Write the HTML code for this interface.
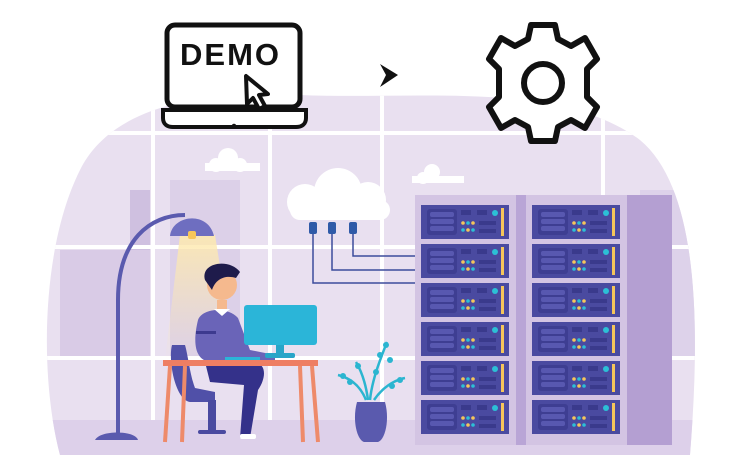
<!DOCTYPE html>
<html><head><style>html,body{margin:0;padding:0;background:#fff;}svg{display:block}</style></head>
<body>
<svg width="740" height="470" viewBox="0 0 740 470" xmlns="http://www.w3.org/2000/svg">
<defs>
<clipPath id="blob"><path d="M60 455 C40 380 40 250 80 170 C110 110 190 90 300 95 C420 100 560 80 640 140 C700 190 700 330 690 455 Z"/></clipPath>
<linearGradient id="cone" x1="0" y1="0" x2="0" y2="1"><stop offset="0" stop-color="#fde9b0" stop-opacity="0.9"/><stop offset="1" stop-color="#fde9b0" stop-opacity="0"/></linearGradient>
</defs>
<g clip-path="url(#blob)">
<rect x="0" y="0" width="740" height="470" fill="#e9e0f0"/>
<rect x="60" y="250" width="90" height="110" fill="#d9cbe6"/>
<rect x="170" y="180" width="70" height="180" fill="#dcd0e8"/>
<rect x="130" y="190" width="20" height="60" fill="#cfc0e0"/>
<rect x="640" y="190" width="60" height="170" fill="#ddd2ea"/>
<g fill="#fff">
<rect x="0" y="131" width="740" height="4"/>
<rect x="0" y="245" width="740" height="4"/>
<rect x="0" y="356" width="740" height="4"/>
<rect x="151" y="90" width="4" height="380"/>
<rect x="268" y="90" width="4" height="380"/>
<rect x="380" y="90" width="4" height="380"/>
<rect x="601" y="90" width="4" height="380"/>
</g>
<rect x="0" y="420" width="740" height="50" fill="#ddd0ea"/>
</g>
<!-- small clouds -->
<g fill="#fff"><circle cx="228" cy="158" r="10"/><circle cx="216" cy="165" r="7"/><circle cx="240" cy="165" r="7"/><rect x="205" y="163" width="55" height="8"/>
<circle cx="432" cy="172" r="8"/><circle cx="423" cy="178" r="6"/><rect x="412" y="176" width="52" height="7"/></g>
<!-- big cloud -->
<g fill="#fff"><circle cx="338" cy="192" r="24"/><circle cx="305" cy="202" r="18"/><circle cx="368" cy="200" r="18"/><rect x="290" y="200" width="100" height="20" rx="10"/></g>
<!-- cables -->
<g stroke="#3c4c9c" stroke-width="1.5" fill="none">
<path d="M313 230 V283 H415"/><path d="M332 230 V270 H415"/><path d="M353 230 V256 H415"/></g>
<g fill="#2f5aa8"><rect x="309" y="222" width="8" height="12" rx="2"/><rect x="328" y="222" width="8" height="12" rx="2"/><rect x="349" y="222" width="8" height="12" rx="2"/></g>
<!-- rack -->
<rect x="415" y="195" width="257" height="250" fill="#d3c4e3"/>
<rect x="516" y="195" width="10" height="250" fill="#b9a5d6"/>
<rect x="627" y="195" width="45" height="250" fill="#b49fd2"/>
<g id="u">
<rect x="421" y="205" width="88" height="34" fill="#4a4aa0"/>
<rect x="427" y="209" width="30" height="26" rx="3" fill="#3e3e92"/>
<rect x="430" y="212" width="24" height="5" rx="2" fill="#5858b0"/><rect x="430" y="219" width="24" height="5" rx="2" fill="#5858b0"/><rect x="430" y="226" width="24" height="5" rx="2" fill="#5858b0"/>
<rect x="461" y="210" width="10" height="5" fill="#3a3a8c"/><rect x="477" y="210" width="10" height="5" fill="#3a3a8c"/>
<circle cx="495" cy="213" r="3" fill="#2cc0d6"/>
<rect x="501" y="208" width="3" height="28" fill="#f6c65a"/>
<circle cx="463" cy="223" r="1.8" fill="#f6c65a"/><circle cx="468" cy="223" r="1.8" fill="#2cc0d6"/><circle cx="473" cy="223" r="1.8" fill="#f6c65a"/>
<circle cx="463" cy="230" r="1.8" fill="#2cc0d6"/><circle cx="468" cy="230" r="1.8" fill="#f6c65a"/><circle cx="473" cy="230" r="1.8" fill="#2cc0d6"/>
<rect x="479" y="221" width="17" height="4" fill="#3a3a8c"/><rect x="479" y="229" width="17" height="4" fill="#3a3a8c"/>
</g>
<use href="#u" y="39"/><use href="#u" y="78"/><use href="#u" y="117"/><use href="#u" y="156"/><use href="#u" y="195"/>
<use href="#u" x="111"/><use href="#u" x="111" y="39"/><use href="#u" x="111" y="78"/><use href="#u" x="111" y="117"/><use href="#u" x="111" y="156"/><use href="#u" x="111" y="195"/>
<!-- lamp -->
<path d="M180 235 L215 235 L235 360 L165 360 Z" fill="url(#cone)"/>
<path d="M118 435 V300 C118 240 150 215 185 215" stroke="#5a5aae" stroke-width="4" fill="none"/>
<path d="M170 236 C172 215 208 210 214 236 Z" fill="#6e6ec0"/>
<rect x="188" y="231" width="8" height="8" rx="2" fill="#f6c65a"/>
<path d="M95 440 C100 430 135 430 138 440 Z" fill="#5a5aae"/>
<!-- chair -->
<path d="M172 345 C168 360 175 400 190 402 L215 402 L215 392 L195 388 C190 375 188 355 185 345 Z" fill="#5050a8"/>
<rect x="208" y="400" width="8" height="30" fill="#4a4aa0"/>
<rect x="198" y="430" width="28" height="4" rx="2" fill="#4a4aa0"/>
<!-- person -->
<path d="M198 320 C202 308 228 306 238 318 L250 350 L275 355 L275 362 L210 362 C196 360 192 345 198 320 Z" fill="#6a64b8"/>
<rect x="196" y="331" width="20" height="3" fill="#3d3a8f"/>
<path d="M205 362 L255 362 C268 365 265 380 258 390 L250 438 L240 438 L244 385 L210 382 Z" fill="#34318a"/>
<rect x="240" y="434" width="16" height="5" rx="2" fill="#fff"/>
<circle cx="222" cy="285" r="15" fill="#f5b98e"/>
<path d="M205 280 C200 262 230 258 240 272 L236 278 C226 275 216 278 212 290 Z" fill="#1e1b4b"/>
<rect x="217" y="300" width="10" height="9" fill="#f5b98e"/>
<path d="M214 309 L230 309 L222 316 Z" fill="#fff"/>
<!-- monitor -->
<rect x="244" y="305" width="73" height="40" rx="3" fill="#2bb5d8"/>
<rect x="276" y="345" width="8" height="10" fill="#28a5c8"/>
<rect x="265" y="353" width="30" height="5" rx="2" fill="#28a5c8"/>
<rect x="225" y="357" width="35" height="4" fill="#2bb5d8"/>
<!-- desk -->
<rect x="163" y="360" width="155" height="6" fill="#ee7e63"/>
<g stroke="#ee8a6a" stroke-width="4"><line x1="170" y1="366" x2="165" y2="442"/><line x1="185" y1="366" x2="182" y2="442"/><line x1="300" y1="366" x2="303" y2="442"/><line x1="312" y1="366" x2="318" y2="442"/></g>
<!-- plant -->
<g stroke="#2bb5d0" stroke-width="2.5" fill="none"><path d="M370 400 C372 380 380 360 387 342"/><path d="M366 400 C360 385 350 378 338 375"/><path d="M374 400 C382 388 394 380 405 378"/><path d="M368 400 C366 385 362 372 356 362"/></g>
<g fill="#2bb5d0"><circle cx="386" cy="345" r="3"/><circle cx="380" cy="355" r="3"/><circle cx="390" cy="360" r="3"/><circle cx="343" cy="376" r="3"/><circle cx="350" cy="382" r="3"/><circle cx="400" cy="380" r="3"/><circle cx="392" cy="386" r="3"/><circle cx="358" cy="366" r="3"/><circle cx="376" cy="372" r="3"/></g>
<path d="M357 402 L385 402 C390 420 385 440 378 442 L364 442 C357 440 352 420 357 402 Z" fill="#5a5aae"/>
<!-- laptop -->
<rect x="167" y="25" width="133" height="82" rx="8" fill="#fff" stroke="#111" stroke-width="5"/>
<path d="M163 110 H306 V118 C306 124 302 127 296 127 H173 C167 127 163 124 163 118 Z" fill="#fff" stroke="#111" stroke-width="4"/>
<circle cx="234" cy="126" r="2.3" fill="#111"/>
<text x="180" y="65" font-family="Liberation Sans, sans-serif" font-weight="bold" font-size="31" letter-spacing="2" fill="#111">DEMO</text>
<path d="M246 76 L247 104 L253 98 L259 109 L265 106 L259 95 L268 94 Z" fill="#fff" stroke="#111" stroke-width="4" stroke-linejoin="round"/>
<!-- arrow -->
<path d="M380 64 L398 75 L380 87 L386 75 Z" fill="#111"/>
<!-- gear -->
<g transform="translate(543,83)" fill="#fff" stroke="#111" stroke-width="6" stroke-linejoin="round">
<path d="M-12 -58 H12 L15 -44 L28 -37 L42 -45 L54 -24 L44 -14 L44 14 L54 24 L42 45 L28 37 L15 44 L12 58 H-12 L-15 44 L-28 37 L-42 45 L-54 24 L-44 14 L-44 -14 L-54 -24 L-42 -45 L-28 -37 L-15 -44 Z"/>
<circle r="19"/>
</g>
</svg>
</body></html>
